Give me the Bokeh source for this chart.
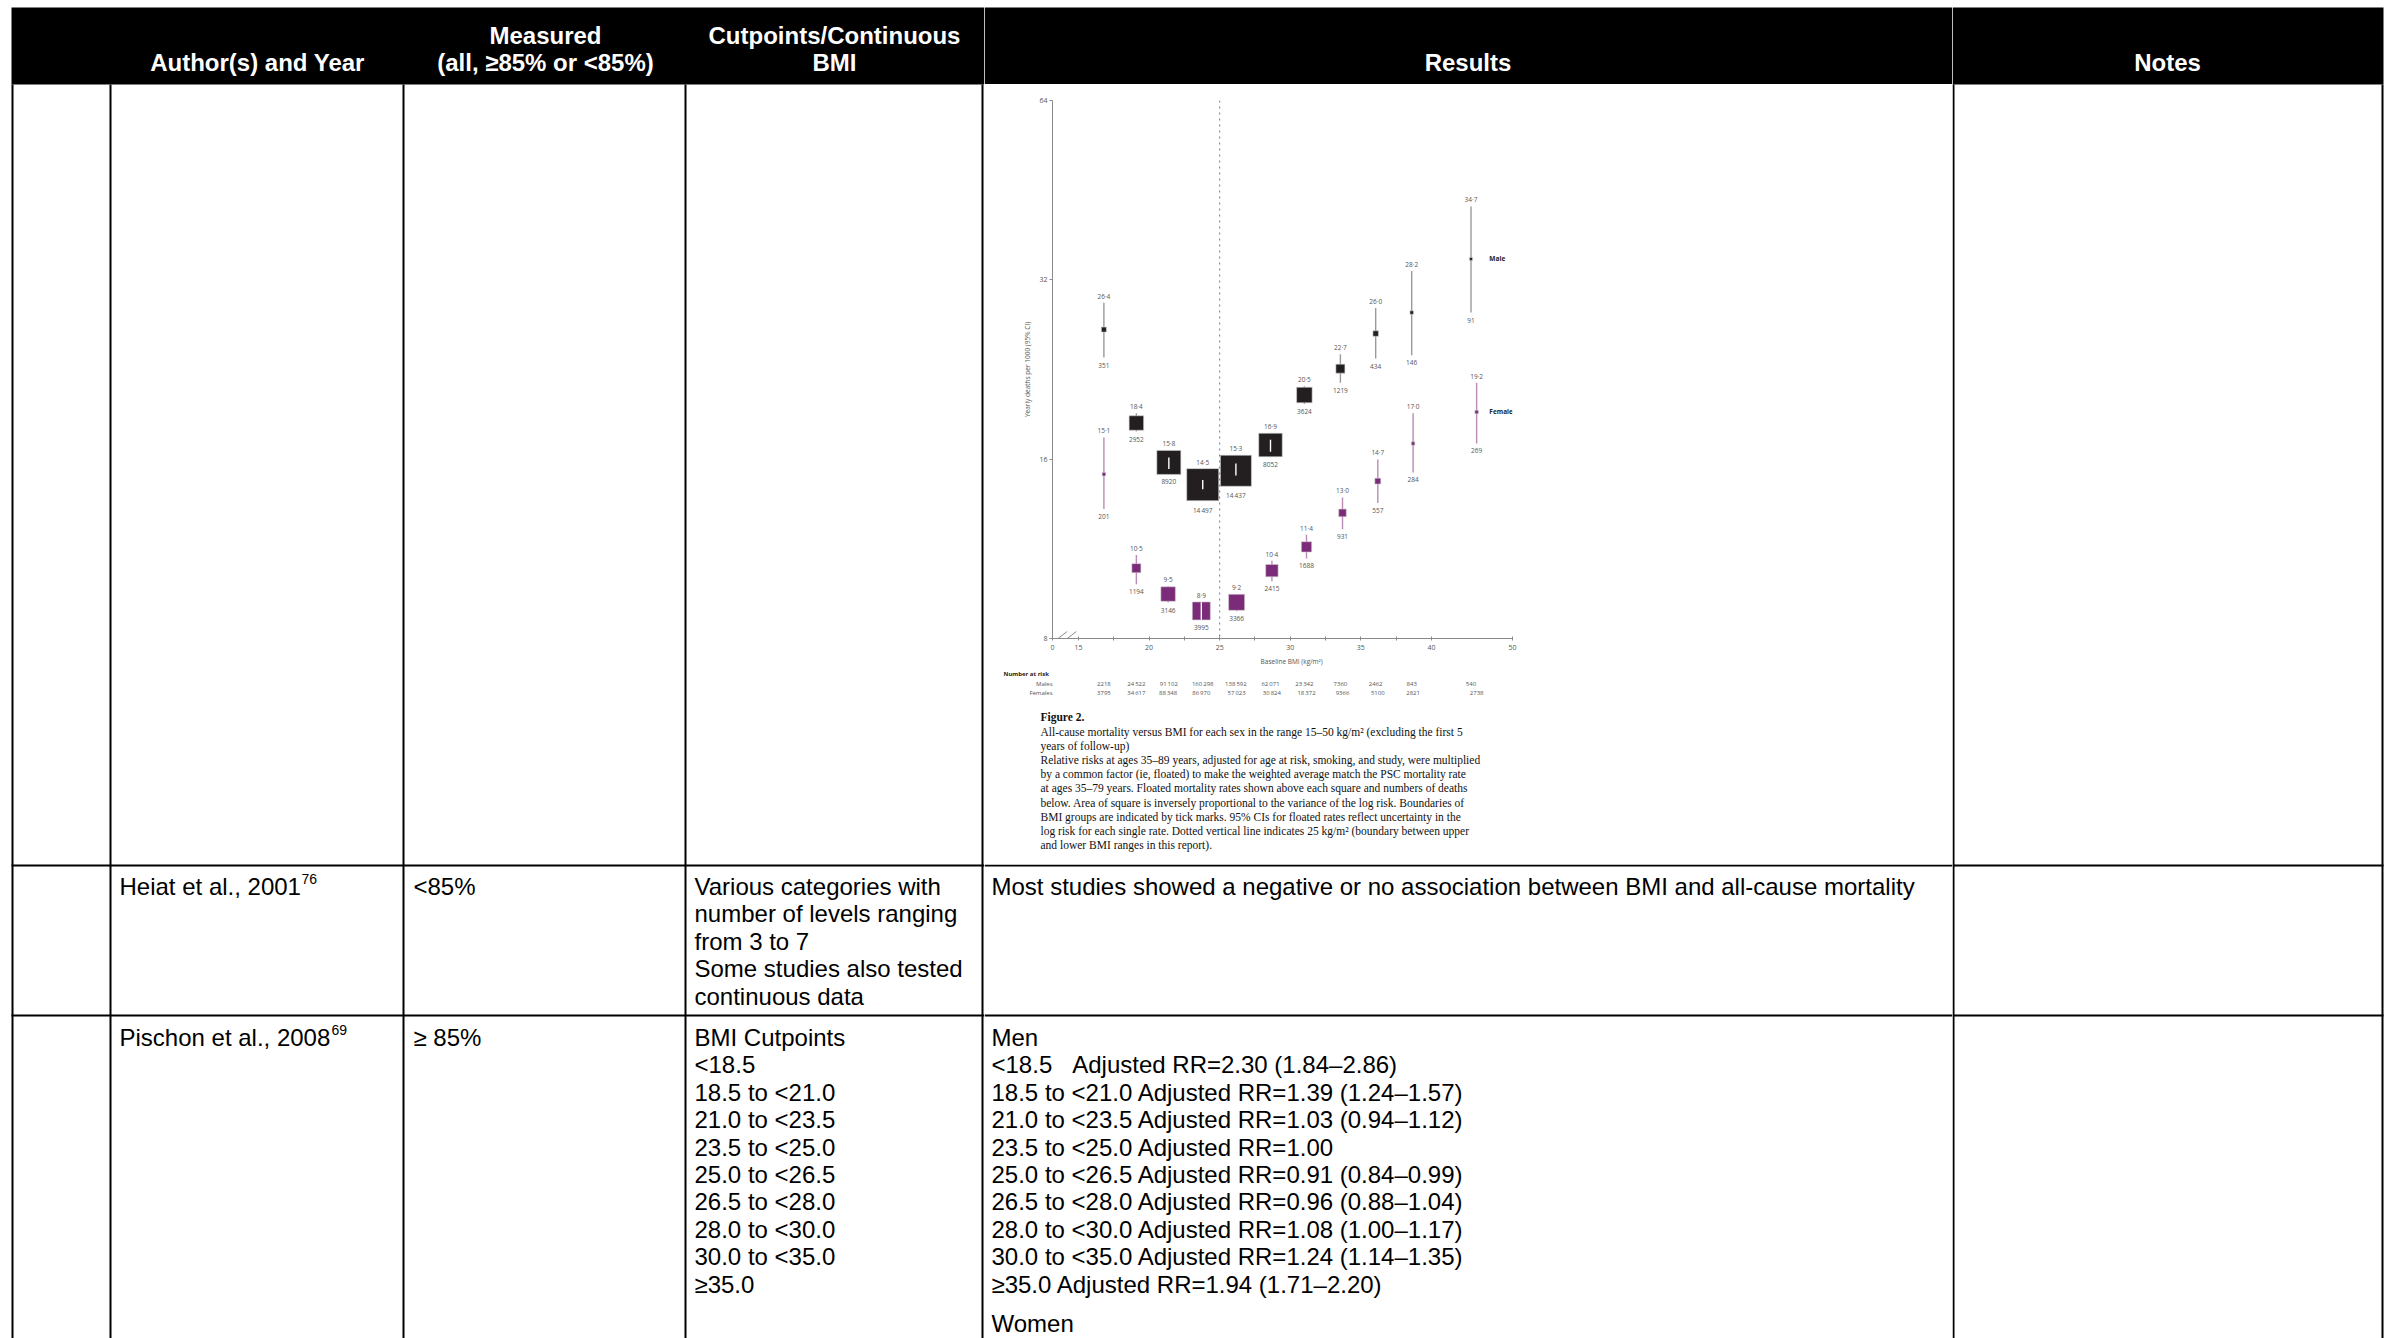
import math
from bokeh.plotting import figure
from bokeh.layouts import row, column
from bokeh.models import Range1d, FixedTicker, Span, Grid
from bokeh.core.properties import value
from bokeh.embed import file_html
from bokeh.resources import INLINE

# ---------------- chart data ----------------
bmi_male = [16.8, 19.1, 21.4, 23.8, 26.15, 28.6, 31.0, 33.55, 36.05, 38.6, 42.8]
rate_male = [26.4, 18.4, 15.8, 14.5, 15.3, 16.9, 20.5, 22.7, 26.0, 28.2, 34.7]
lo_male = [23.7, 17.8, 15.4, 14.24, 15.02, 16.46, 19.8, 21.5, 23.6, 23.9, 28.2]
hi_male = [29.3, 19.1, 16.1, 14.76, 15.73, 17.25, 21.2, 24.0, 28.7, 33.1, 42.5]
deaths_male = [351, 2952, 8920, 14497, 14437, 8052, 3624, 1219, 434, 146, 91]
box_male = [5, 14.5, 24, 32, 31, 23.5, 15.5, 9, 5.5, 3.5, 3]

bmi_female = [16.8, 19.1, 21.35, 23.7, 26.2, 28.7, 31.15, 33.7, 36.2, 38.7, 43.2]
rate_female = [15.1, 10.5, 9.5, 8.9, 9.2, 10.4, 11.4, 13.0, 14.7, 17.0, 19.2]
lo_female = [13.2, 9.87, 9.19, 8.6, 8.89, 9.98, 10.9, 12.2, 13.5, 15.2, 17.0]
hi_female = [17.4, 11.05, 9.79, 9.2, 9.49, 10.8, 11.95, 13.8, 15.98, 19.1, 21.5]
deaths_female = [201, 1194, 3146, 3995, 3366, 2415, 1688, 931, 557, 284, 269]
box_female = [3.5, 9, 14.5, 18, 16, 12.4, 10.3, 7.6, 5.9, 3.5, 3.5]

risk_male = [2218, 24522, 91102, 160298, 138592, 62071, 23342, 7360, 2462, 843, 540]
risk_female = [3795, 34617, 88348, 86970, 57023, 30824, 18372, 9366, 5100, 2821, 2738]

y_ticks = [8, 16, 32, 64]
x_ticks = [13.16, 15, 17.5, 20, 22.5, 25, 27.5, 30, 32.5, 35, 37.5, 40, 45.74]
x_tick_labels = ["0", "15", "", "20", "", "25", "", "30", "", "35", "", "40", "50"]

caption_title = "Figure 2."
caption_lines = [
    "All-cause mortality versus BMI for each sex in the range 15\u201350 kg/m\u00b2 (excluding the first 5",
    "years of follow-up)",
    "Relative risks at ages 35\u201389 years, adjusted for age at risk, smoking, and study, were multiplied",
    "by a common factor (ie, floated) to make the weighted average match the PSC mortality rate",
    "at ages 35\u201379 years. Floated mortality rates shown above each square and numbers of deaths",
    "below. Area of square is inversely proportional to the variance of the log risk. Boundaries of",
    "BMI groups are indicated by tick marks. 95% CIs for floated rates reflect uncertainty in the",
    "log risk for each single rate. Dotted vertical line indicates 25 kg/m\u00b2 (boundary between upper",
    "and lower BMI ranges in this report).",
]

# ---------------- table text ----------------
header_cols = [("Author(s) and Year",), ("Measured", "(all, \u226585% or <85%)"),
               ("Cutpoints/Continuous", "BMI")]
row2_author, row2_sup = "Heiat et al., 2001", "76"
row2_measured = "<85%"
row2_cut = ["Various categories with", "number of levels ranging", "from 3 to 7",
            "Some studies also tested", "continuous data"]
row2_result = "Most studies showed a negative or no association between BMI and all-cause mortality"
row3_author, row3_sup = "Pischon et al., 2008", "69"
row3_measured = "\u2265 85%"
row3_cut = ["BMI Cutpoints", "<18.5", "18.5 to <21.0", "21.0 to <23.5", "23.5 to <25.0",
            "25.0 to <26.5", "26.5 to <28.0", "28.0 to <30.0", "30.0 to <35.0", "\u226535.0"]
row3_result = ["Men", "<18.5\u00a0\u00a0\u00a0Adjusted RR=2.30 (1.84\u20132.86)",
               "18.5 to <21.0 Adjusted RR=1.39 (1.24\u20131.57)",
               "21.0 to <23.5 Adjusted RR=1.03 (0.94\u20131.12)",
               "23.5 to <25.0 Adjusted RR=1.00",
               "25.0 to <26.5 Adjusted RR=0.91 (0.84\u20130.99)",
               "26.5 to <28.0 Adjusted RR=0.96 (0.88\u20131.04)",
               "28.0 to <30.0 Adjusted RR=1.08 (1.00\u20131.17)",
               "30.0 to <35.0 Adjusted RR=1.24 (1.14\u20131.35)",
               "\u226535.0 Adjusted RR=1.94 (1.71\u20132.20)"]
row3_women = "Women"

# ---------------- layout constants (page pixels) ----------------
TOT_H = 1338
A_W, B_W, C_W = 984, 968, 435
HEAD_T, HEAD_B = 7, 84
ROW_Y = [865, 1015]
LINE_H = 27.4
FONT = value("Liberation Sans")
FS = "24px"

def table_fig(w, h, x_range=None):
    f = figure(width=w, height=h, x_range=x_range or Range1d(0, w), y_range=Range1d(h, 0),
               x_axis_location=None, y_axis_location=None, toolbar_location=None,
               output_backend="svg", min_border=0)
    f.outline_line_color = None
    f.background_fill_color = "white"
    f.border_fill_color = "white"
    for r in f.center:
        if isinstance(r, Grid):
            r.visible = False
    return f

def txt(f, xs, ys, texts, size=FS, align="left", color="black", style="normal", font=FONT):
    f.text(x=xs, y=ys, text=texts, text_font=font, text_font_size=size,
           text_align=align, text_baseline="middle", text_color=color,
           text_font_style=style)

# ---- band A (first four columns) ----
a = table_fig(A_W, TOT_H)
a.quad(left=11, right=A_W, top=HEAD_T, bottom=HEAD_B, fill_color="black", line_color=None)
cols_a = [12, 110, 403, 685, 982]
a.segment(x0=cols_a, y0=[HEAD_B] * 5, x1=cols_a, y1=[TOT_H] * 5, line_width=2, line_color="black")
a.segment(x0=[11, 11], y0=ROW_Y, x1=[A_W, A_W], y1=ROW_Y, line_width=2, line_color="black")
txt(a, [257, 545, 545, 834, 834], [62, 35, 62, 35, 62],
    [header_cols[0][0], header_cols[1][0], header_cols[1][1], header_cols[2][0], header_cols[2][1]],
    align="center", color="white", style="bold")
r2 = 886
r3 = 1037
txt(a, [119, 413], [r2, r2], [row2_author, row2_measured])
txt(a, [301], [r2 - 8], [row2_sup], size="14px")
txt(a, [694] * len(row2_cut), [r2 + LINE_H * i for i in range(len(row2_cut))], row2_cut)
txt(a, [119, 413], [r3, r3], [row3_author, row3_measured])
txt(a, [331], [r3 - 8], [row3_sup], size="14px")
txt(a, [694] * len(row3_cut), [r3 + LINE_H * i for i in range(len(row3_cut))], row3_cut)

# ---- band B header ----
hb = table_fig(B_W, HEAD_B)
hb.quad(left=0, right=B_W, top=HEAD_T, bottom=HEAD_B, fill_color="black", line_color=None)
txt(hb, [483.5], [62], ["Results"], align="center", color="white", style="bold")

# ---- the embedded chart ----
CH_T, CH_B = HEAD_B, 656
CH_H = CH_B - CH_T
FL, FR, FT, FB = 68, 528, 16, 554      # frame edges inside the chart figure
X0, X1 = x_ticks[0], x_ticks[-1]
Y0, Y1 = y_ticks[0], y_ticks[-1]
ch = figure(width=B_W, height=CH_H, x_range=Range1d(X0, X1), y_range=Range1d(Y0, Y1),
            y_axis_type="log", toolbar_location=None, output_backend="svg",
            min_border_left=FL, min_border_right=B_W - FR, min_border_top=FT,
            min_border_bottom=CH_H - FB)
ch.outline_line_color = None
ch.xgrid.visible = False
ch.ygrid.visible = False
ch.background_fill_color = "white"
ch.border_fill_color = "white"
ppo = (FB - FT) / math.log2(Y1 / Y0)        # pixels per doubling
ppu = (FR - FL) / (X1 - X0)                 # pixels per BMI unit
SANS = "Open Sans"
SMALL = value(SANS)
GREY = "#555555"

for ax in (ch.xaxis[0], ch.yaxis[0]):
    ax.axis_line_color = "#8a8a8a"
    ax.major_tick_line_color = "#8a8a8a"
    ax.minor_tick_line_color = None
    ax.major_label_text_font = SANS
    ax.major_label_text_font_size = "7px"
    ax.major_label_text_color = GREY
    ax.axis_label_text_font = SANS
    ax.axis_label_text_font_size = "6.5px"
    ax.axis_label_text_color = GREY
    ax.axis_label_text_font_style = "normal"
ch.yaxis.ticker = FixedTicker(ticks=y_ticks)
ch.yaxis.major_label_overrides = {t: str(t) for t in y_ticks}
ch.yaxis.major_tick_out = 3
ch.yaxis.major_tick_in = 0
ch.yaxis.major_label_standoff = 2
ch.yaxis.axis_label = "Yearly deaths per 1000 (95% CI)"
ch.yaxis.axis_label_standoff = 4
ch.xaxis.ticker = FixedTicker(ticks=x_ticks)
ch.xaxis.major_label_overrides = dict(zip(x_ticks, x_tick_labels))
ch.xaxis.major_tick_out = 2
ch.xaxis.major_tick_in = 2
ch.xaxis.major_label_standoff = 4

ch.add_layout(Span(location=25, dimension="height", line_color="#777777",
                   line_dash="dotted", line_width=1))

# axis break marks (drawn just above the x axis)
brk_h = Y0 * 2 ** (7 / ppo)
ch.segment(x0=[13.55, 14.2], y0=[Y0, Y0], x1=[14.2, 14.85], y1=[brk_h, brk_h],
           line_color="#8a8a8a", line_width=1)

def fmt_rate(v):
    return ("%.1f" % v).replace(".", "\u00b7")

def fmt_n(n):
    s = str(n)
    return s[:-3] + "\u2009" + s[-3:] if n >= 10000 else s

def draw_series(bmi, rate, lo, hi, box, deaths, fill, ci_col):
    ch.segment(x0=bmi, y0=lo, x1=bmi, y1=hi, line_color=ci_col, line_width=1.4)
    ch.rect(x=bmi, y=rate, width=box, height=box, width_units="screen",
            height_units="screen", fill_color=fill, line_color="#cfcfcf", line_width=0.6)
    up = [max(math.log2(h / r) * ppo, b / 2) for r, h, b in zip(rate, hi, box)]
    dn = [max(math.log2(r / l) * ppo, b / 2) for r, l, b in zip(rate, lo, box)]
    inside = [i for i, (r, l, h, b) in enumerate(zip(rate, lo, hi, box))
              if math.log2(h / r) * ppo <= b / 2 and math.log2(r / l) * ppo <= b / 2]
    if inside:
        ch.segment(x0=[bmi[i] for i in inside], y0=[lo[i] for i in inside],
                   x1=[bmi[i] for i in inside], y1=[hi[i] for i in inside],
                   line_color="white", line_width=1.4)
    ch.text(x=bmi, y=[r * 2 ** ((u + 2) / ppo) for r, u in zip(rate, up)],
            text=[fmt_rate(v) for v in rate], text_font=SMALL, text_font_size="6.5px",
            text_color=GREY, text_align="center", text_baseline="bottom")
    ch.text(x=bmi, y=[r / 2 ** ((d + 5) / ppo) for r, d in zip(rate, dn)],
            text=[fmt_n(v) for v in deaths], text_font=SMALL, text_font_size="6.5px",
            text_color=GREY, text_align="center", text_baseline="top")

draw_series(bmi_male, rate_male, lo_male, hi_male, box_male, deaths_male, "#231f20", "#9a9a9a")
draw_series(bmi_female, rate_female, lo_female, hi_female, box_female, deaths_female,
            "#7b2b78", "#b98bb6")

ch.text(x=[44.1, 44.1], y=[rate_male[-1], rate_female[-1]], text=["Male", "Female"],
        text_font=SMALL, text_font_size="6.5px", text_font_style="bold",
        text_color="#222222", text_align="left", text_baseline="middle")

# ---- under the chart: axis title, numbers at risk, caption ----
CAP_H = 864 - CH_B
cap_x = Range1d(X0 - FL / ppu, X0 + (B_W - FL) / ppu)   # same BMI scale as the chart
cap = table_fig(B_W, CAP_H, x_range=cap_x)

def bx(page_x):   # page x -> BMI units of the shared scale
    return X0 + (page_x - (A_W + FL)) / ppu

txt(cap, [30.1], [661 - CH_B], ["Baseline BMI (kg/m\u00b2)"], size="6.5px", align="center",
    color=GREY, font=SMALL)
txt(cap, [bx(1003)], [673 - CH_B], ["Number at risk"], size="6px", color="#222222",
    style="bold", font=SMALL)
txt(cap, [X0, X0], [683 - CH_B, 692 - CH_B], ["Males", "Females"], size="6px",
    align="right", color=GREY, font=SMALL)
txt(cap, bmi_male, [683 - CH_B] * len(risk_male), [fmt_n(v) for v in risk_male],
    size="6px", align="center", color=GREY, font=SMALL)
txt(cap, bmi_female, [692 - CH_B] * len(risk_female), [fmt_n(v) for v in risk_female],
    size="6px", align="center", color=GREY, font=SMALL)
SERIF = value("Liberation Serif")
txt(cap, [bx(1040)], [716 - CH_B], [caption_title], size="11.5px", color="#111111",
    style="bold", font=SERIF)
txt(cap, [bx(1040)] * len(caption_lines), [731 - CH_B + 14.2 * i for i in range(len(caption_lines))],
    caption_lines, size="11.5px", color="#111111", font=SERIF)

# ---- band B lower part ----
LB_T = 864
LB_H = TOT_H - LB_T
lb = table_fig(B_W, LB_H)
lb.segment(x0=[0, 0], y0=[y - LB_T for y in ROW_Y], x1=[B_W, B_W], y1=[y - LB_T for y in ROW_Y],
           line_width=2, line_color="black")
txt(lb, [7], [r2 - LB_T], [row2_result])
txt(lb, [7] * len(row3_result), [r3 - LB_T + LINE_H * i for i in range(len(row3_result))], row3_result)
txt(lb, [7], [1323 - LB_T], [row3_women])

# ---- band C (notes) ----
c = table_fig(C_W, TOT_H)
c.quad(left=0, right=431, top=HEAD_T, bottom=HEAD_B, fill_color="black", line_color=None)
c.segment(x0=[1, 430], y0=[HEAD_B] * 2, x1=[1, 430], y1=[TOT_H] * 2, line_width=2, line_color="black")
c.segment(x0=[0, 0], y0=ROW_Y, x1=[431, 431], y1=ROW_Y, line_width=2, line_color="black")
txt(c, [215], [62], ["Notes"], align="center", color="white", style="bold")

page = row(a, column(row(hb), ch, row(cap), row(lb)), c)
open("out.html", "w").write(file_html(page, INLINE))
